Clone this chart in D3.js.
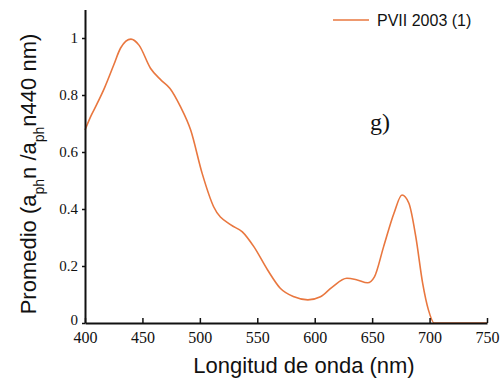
<!DOCTYPE html>
<html>
<head>
<meta charset="utf-8">
<script src="https://cdn.jsdelivr.net/npm/d3@7"></script>
<style>
  body { margin: 0; background: #fff; }
  svg { display: block; }
</style>
</head>
<body>
<svg width="503" height="384"></svg>
<script>
// Wavelength (nm) and mean normalised absorption
const wavelength = [400, 405, 410, 417, 425, 431, 440, 447, 457, 466, 474, 483, 492, 502, 512,
    527, 537, 547, 559, 570, 582, 594, 605, 615, 628, 637, 646, 652, 660, 669, 676, 682, 688,
    694, 699, 704, 750];
const promedio = [0.677, 0.725, 0.765, 0.825, 0.905, 0.965, 0.996, 0.975, 0.894, 0.853, 0.823, 0.76,
    0.677, 0.525, 0.408, 0.344, 0.32, 0.268, 0.186, 0.122, 0.092, 0.081, 0.092, 0.125, 0.157,
    0.151, 0.141, 0.162, 0.268, 0.385, 0.449, 0.42, 0.303, 0.139, 0.046, 0, 0];
const xTicks = [400, 450, 500, 550, 600, 650, 700, 750];
const yTicks = [0, 0.2, 0.4, 0.6, 0.8, 1];
const seriesName = "PVII 2003 (1)";

const svg = d3.select("svg");
const lineColor = "#e9773f";

// Scales
const x = d3.scaleLinear().domain([400, 750]).range([85, 487]);
const y = d3.scaleLinear().domain([0, 1.1]).range([323, 9.5]);

const data = wavelength.map((w, i) => ({ w: w, v: promedio[i] }));

// Curve
const line = d3.line()
    .x(d => x(d.w))
    .y(d => y(d.v))
    .curve(d3.curveMonotoneX);

svg.append("path")
    .datum(data)
    .attr("d", line)
    .attr("fill", "none")
    .attr("stroke", lineColor)
    .attr("stroke-width", 1.6);

// X axis (ticks pointing up into the plot)
const xAxis = svg.append("g")
    .attr("transform", `translate(0, ${y(0)})`)
    .call(d3.axisBottom(x).tickValues(xTicks).tickSizeInner(-5).tickSizeOuter(0).tickFormat(d3.format("d")));
xAxis.select(".domain").attr("stroke", "#111").attr("stroke-width", 2);
xAxis.selectAll(".tick line").attr("stroke", "#111").attr("stroke-width", 1.5);
xAxis.selectAll(".tick text")
    .attr("y", 9)
    .style("font-family", "'Liberation Serif', 'Times New Roman', serif")
    .style("font-size", "16px")
    .attr("fill", "#111");

// Y axis
const yAxis = svg.append("g")
    .attr("transform", `translate(${x(400)}, 0)`)
    .call(d3.axisLeft(y).tickValues(yTicks).tickSizeInner(3).tickSizeOuter(0).tickFormat(d => d));
yAxis.select(".domain").attr("stroke", "#111").attr("stroke-width", 2);
yAxis.selectAll(".tick line").attr("stroke", "#111").attr("stroke-width", 1.5);
yAxis.selectAll(".tick text")
    .attr("x", -7)
    .attr("y", d => d === 0 ? -3 : 0)
    .style("font-family", "'Liberation Serif', 'Times New Roman', serif")
    .style("font-size", "15px")
    .attr("fill", "#111");

// Axis titles
svg.append("text")
    .attr("x", 304)
    .attr("y", 373)
    .attr("text-anchor", "middle")
    .style("font-family", "'Liberation Sans', Arial, sans-serif")
    .style("font-size", "22px")
    .attr("fill", "#111")
    .text("Longitud de onda (nm)");

const yTitle = svg.append("text")
    .attr("transform", "translate(36, 174) rotate(-90)")
    .attr("text-anchor", "middle")
    .style("font-family", "'Liberation Sans', Arial, sans-serif")
    .style("font-size", "22px")
    .attr("fill", "#111");
yTitle.append("tspan").text("Promedio (a");
yTitle.append("tspan").attr("baseline-shift", "sub").style("font-size", "14px").text("ph");
yTitle.append("tspan").text("n /a");
yTitle.append("tspan").attr("baseline-shift", "sub").style("font-size", "14px").text("ph");
yTitle.append("tspan").text("n440 nm)");

// Legend
svg.append("line")
    .attr("x1", 333).attr("x2", 369)
    .attr("y1", 20).attr("y2", 20)
    .attr("stroke", lineColor)
    .attr("stroke-width", 1.5);
svg.append("text")
    .attr("x", 377)
    .attr("y", 26)
    .style("font-family", "'Liberation Sans', Arial, sans-serif")
    .style("font-size", "16px")
    .attr("fill", "#111")
    .text(seriesName);

// Panel letter
svg.append("text")
    .attr("x", 370)
    .attr("y", 130)
    .style("font-family", "'Liberation Serif', 'Times New Roman', serif")
    .style("font-size", "24px")
    .attr("fill", "#111")
    .text("g)");
</script>
</body>
</html>
